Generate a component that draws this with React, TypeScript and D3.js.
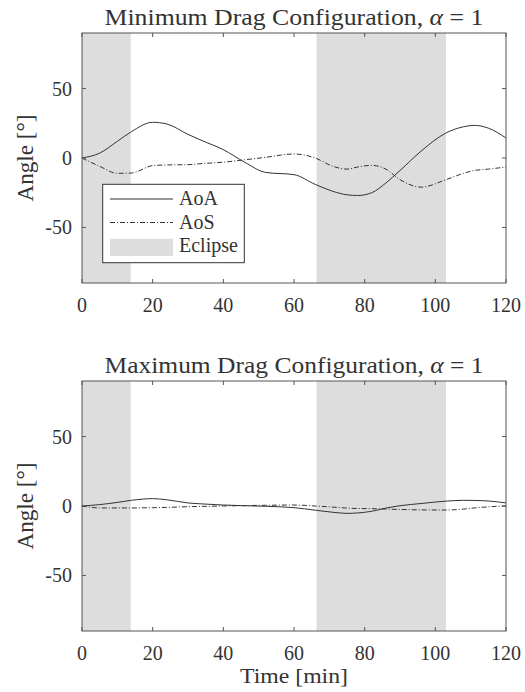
import React, { useEffect } from "react";
import * as d3 from "d3";

// time samples (min) and angles (deg)
const timeMin = [0, 5, 10, 14, 20, 24, 30, 34, 40, 46, 52, 60, 66, 71, 75, 78, 82, 86, 90, 96, 103, 108, 111, 115, 120];
const aoaMinDrag = [0, 3.5, 12, 19, 25.7, 24.5, 17, 12.5, 6, -3, -10.4, -12, -19, -24, -26.5, -27, -25, -18, -9, 5, 18, 22.5, 23.5, 21.5, 14.4];
const aosMinDrag = [0, -6, -11, -10.8, -5.5, -5, -4.8, -4, -3, -1.3, 0.5, 2.9, 0, -6, -8, -6.5, -5.3, -8, -15.6, -21, -15.6, -11, -9, -8, -6.5];
const aoaMaxDrag = [0, 1, 2.6, 4.1, 5.3, 4.5, 2.2, 1.5, 0.7, 0.2, -0.2, -1.2, -3, -4.5, -5.3, -5, -3.8, -1.5, 0.2, 1.8, 3.5, 4.1, 4, 3.6, 2.2];
const aosMaxDrag = [0, -1.4, -1.4, -1.4, -1.2, -1, -0.5, -0.3, 0, 0.3, 0.5, 0.7, 0, -0.8, -1.5, -1.8, -1.9, -2.2, -2.5, -2.8, -2.9, -2.2, -1.4, -0.6, 0];

const eclipseStart = [0, 66.4];
const eclipseEnd = [13.8, 103];

const xTicks = [0, 20, 40, 60, 80, 100, 120];
const yTicks = [-50, 0, 50];

const panelTitles = ["Minimum Drag Configuration, ", "Maximum Drag Configuration, "];
const legendLabels = ["AoA", "AoS", "Eclipse"];

const W = 525;
const H = 692;
const left = 82;
const right = 506;
const panelTops = [33, 381];
const panelH = 250;

const font = "'Liberation Serif', 'DejaVu Serif', serif";
const ink = "#333";
const dashDot = "5,2,1,2";

type PanelProps = { top: number; idx: number; aoa: number[]; aos: number[]; legend: boolean };

const Panel = ({ top, idx, aoa, aos, legend }: PanelProps) => {
  const x = d3.scaleLinear().domain([0, 120]).range([left, right]);
  const y = d3.scaleLinear().domain([-90, 90]).range([top + panelH, top]);
  const line = d3
    .line<number>()
    .x((_, i) => x(timeMin[i]))
    .y((d) => y(d))
    .curve(d3.curveMonotoneX);

  const bottom = top + panelH;
  const tl = 4;

  return (
    <g>
      {eclipseStart.map((s, i) => (
        <rect key={i} x={x(s)} y={top} width={x(eclipseEnd[i]) - x(s)} height={panelH} fill="#dddddd" />
      ))}
      <path d={line(aoa) || ""} fill="none" stroke={ink} strokeWidth={1} />
      <path d={line(aos) || ""} fill="none" stroke={ink} strokeWidth={1} strokeDasharray={dashDot} />

      <rect x={left} y={top} width={right - left} height={panelH} fill="none" stroke="#555" strokeWidth={1} />
      {xTicks.map((t) => (
        <g key={"x" + t}>
          <line x1={x(t)} x2={x(t)} y1={bottom} y2={bottom - tl} stroke="#555" />
          <line x1={x(t)} x2={x(t)} y1={top} y2={top + tl} stroke="#555" />
          <text x={x(t)} y={bottom + 28.5} textAnchor="middle" fontSize={20} fill={ink} fontFamily={font}>
            {t}
          </text>
        </g>
      ))}
      {yTicks.map((t) => (
        <g key={"y" + t}>
          <line x1={left} x2={left + tl} y1={y(t)} y2={y(t)} stroke="#555" />
          <line x1={right} x2={right - tl} y1={y(t)} y2={y(t)} stroke="#555" />
          <text x={72} y={y(t) + 7} textAnchor="end" fontSize={20} fill={ink} fontFamily={font}>
            {t < 0 ? "-" + Math.abs(t) : t}
          </text>
        </g>
      ))}

      <text
        x={(left + right) / 2}
        y={top - 8}
        textAnchor="middle"
        fontSize={23}
        fill={ink}
        fontFamily={font}
        textLength={379}
        lengthAdjust="spacingAndGlyphs"
      >
        {panelTitles[idx]}
        <tspan fontStyle="italic">α</tspan>
        {" = 1"}
      </text>
      <text
        transform={`translate(33,${(top + bottom) / 2}) rotate(-90)`}
        textAnchor="middle"
        fontSize={23}
        fill={ink}
        fontFamily={font}
        textLength={87}
        lengthAdjust="spacingAndGlyphs"
      >
        Angle [°]
      </text>

      {legend && (
        <g>
          <rect x={102.7} y={184.3} width={141.6} height={78.4} fill="#fff" stroke={ink} strokeWidth={1} />
          <line x1={110} x2={173} y1={199} y2={199} stroke={ink} />
          <line x1={110} x2={173} y1={222.5} y2={222.5} stroke={ink} strokeDasharray={dashDot} />
          <rect x={110} y={238.7} width={63} height={17.3} fill="#dddddd" />
          {legendLabels.map((l, i) => (
            <text key={l} x={179} y={205 + i * 23.5} fontSize={20} fill={ink} fontFamily={font}>
              {l}
            </text>
          ))}
        </g>
      )}
    </g>
  );
};

const App = () => {
  useEffect(() => {
    document.body.style.margin = "0";
  }, []);

  return (
    <svg width={W} height={H} style={{ display: "block", background: "#fff" }}>
      <Panel top={panelTops[0]} idx={0} aoa={aoaMinDrag} aos={aosMinDrag} legend={true} />
      <Panel top={panelTops[1]} idx={1} aoa={aoaMaxDrag} aos={aosMaxDrag} legend={false} />
      <text
        x={(left + right) / 2}
        y={683}
        textAnchor="middle"
        fontSize={22}
        fill={ink}
        fontFamily={font}
        textLength={108}
        lengthAdjust="spacingAndGlyphs"
      >
        Time [min]
      </text>
    </svg>
  );
};

export default App;
